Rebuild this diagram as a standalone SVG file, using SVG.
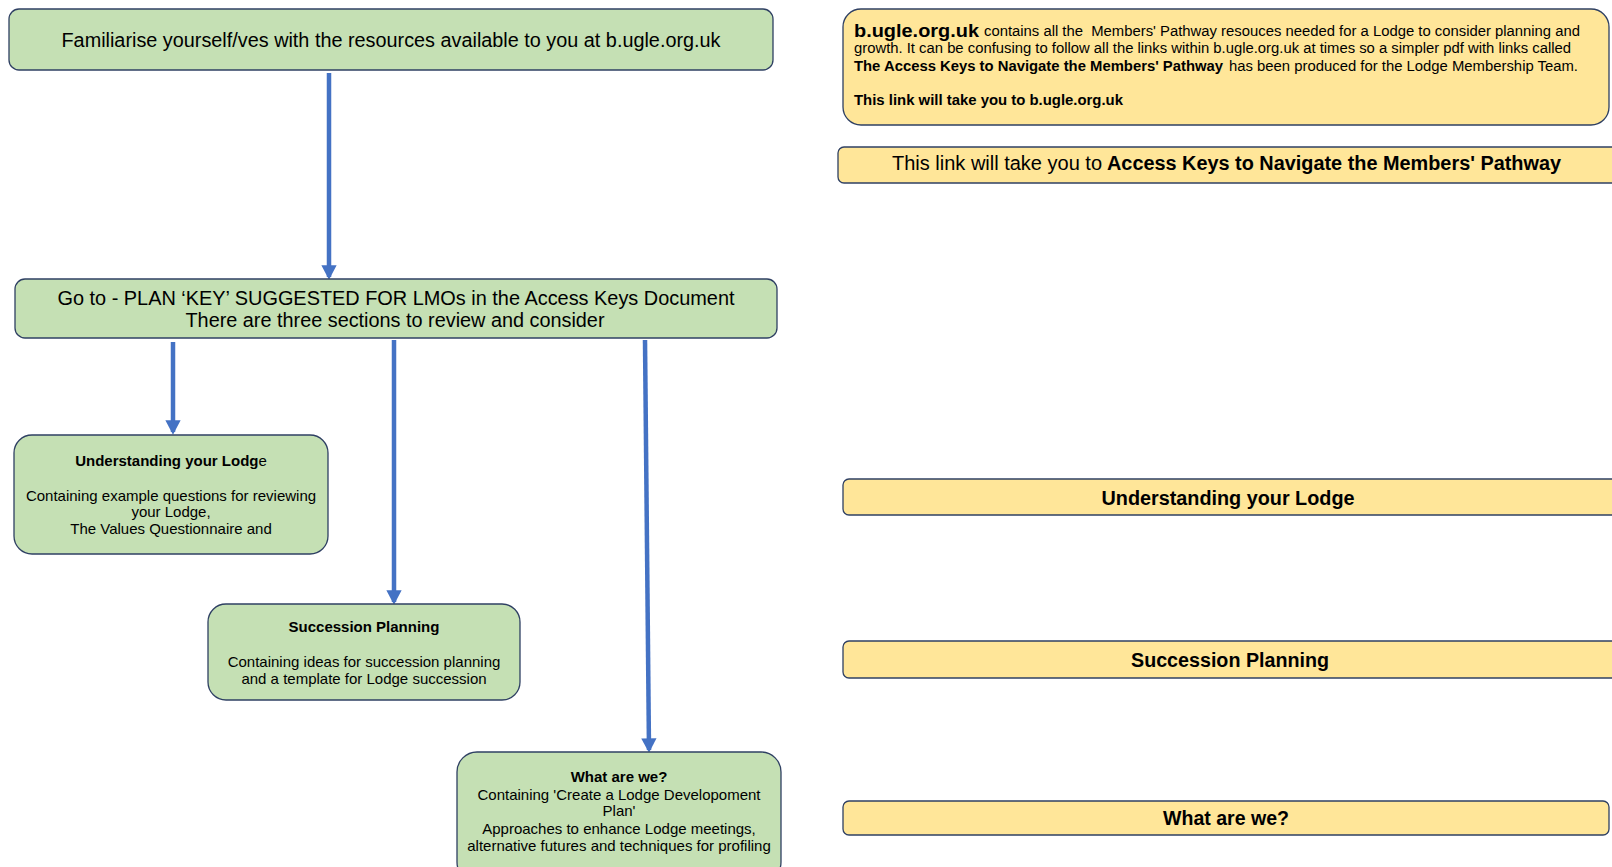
<svg xmlns="http://www.w3.org/2000/svg" width="1612" height="867" viewBox="0 0 1612 867">
<defs>
<style>
.g{fill:#C5E0B4;stroke:#2F4063;stroke-width:1.3}
.y{fill:#FFE699;stroke:#2F4063;stroke-width:1.3}
text{font-family:"Liberation Sans",Arial,sans-serif;fill:#000}
.c{text-anchor:middle}
.b{font-weight:bold}
.conn{stroke:#4472C4;stroke-width:4.5;fill:none}
</style>
<marker id="ah" markerWidth="4" markerHeight="4" refX="2.6" refY="2" orient="auto" markerUnits="strokeWidth" viewBox="0 0 4 4">
<path d="M0,0.3 L3.2,2 L0,3.7 Z" fill="#4472C4"/>
</marker>
</defs>
<rect width="1612" height="867" fill="#fff"/>
<g id="connectors">
<line class="conn" x1="329" y1="73" x2="329" y2="277" marker-end="url(#ah)"/>
<line class="conn" x1="173" y1="342" x2="173" y2="432" marker-end="url(#ah)"/>
<line class="conn" x1="394" y1="340" x2="394" y2="602" marker-end="url(#ah)"/>
<line class="conn" x1="645" y1="340" x2="649" y2="750" marker-end="url(#ah)"/>
</g>
<g id="n-familiarise">
<rect class="g" x="9" y="9" width="764" height="61" rx="10"/>
<text class="c" x="391" y="47" font-size="20" textLength="659" lengthAdjust="spacingAndGlyphs">Familiarise yourself/ves with the resources available to you at b.ugle.org.uk</text>
</g>
<g id="n-goto">
<rect class="g" x="15" y="279" width="762" height="59" rx="10"/>
<text class="c" x="396" y="305" font-size="20" textLength="677" lengthAdjust="spacingAndGlyphs">Go to - PLAN ‘KEY’ SUGGESTED FOR LMOs in the Access Keys Document</text>
<text class="c" x="395" y="327" font-size="20" textLength="419" lengthAdjust="spacingAndGlyphs">There are three sections to review and consider</text>
</g>
<g id="n-understanding">
<rect class="g" x="14" y="435" width="314" height="119" rx="18"/>
<text class="c" x="171" y="466" font-size="15"><tspan class="b">Understanding your Lodg</tspan>e</text>
<text class="c" x="171" y="501" font-size="15">Containing example questions for reviewing</text>
<text class="c" x="171" y="517" font-size="15">your Lodge,</text>
<text class="c" x="171" y="534" font-size="15">The Values Questionnaire and</text>
</g>
<g id="n-succession">
<rect class="g" x="208" y="604" width="312" height="96" rx="18"/>
<text class="c b" x="364" y="632" font-size="15">Succession Planning</text>
<text class="c" x="364" y="667" font-size="15">Containing ideas for succession planning</text>
<text class="c" x="364" y="684" font-size="15">and a template for Lodge succession</text>
</g>
<g id="n-whatarewe">
<rect class="g" x="457" y="752" width="324" height="130" rx="20"/>
<text class="c b" x="619" y="782" font-size="15">What are we?</text>
<text class="c" x="619" y="800" font-size="15">Containing 'Create a Lodge Developoment</text>
<text class="c" x="619" y="816" font-size="15">Plan'</text>
<text class="c" x="619" y="834" font-size="15">Approaches to enhance Lodge meetings,</text>
<text class="c" x="619" y="851" font-size="15">alternative futures and techniques for profiling</text>
</g>
<g id="n-info">
<rect class="y" x="843" y="9" width="766" height="116" rx="18"/>
<text class="b" x="854" y="37" font-size="19" textLength="125" lengthAdjust="spacingAndGlyphs">b.ugle.org.uk</text>
<text x="984" y="36" font-size="14" textLength="596" lengthAdjust="spacingAndGlyphs" xml:space="preserve">contains all the  Members' Pathway resouces needed for a Lodge to consider planning and</text>
<text x="854" y="53" font-size="14" textLength="717" lengthAdjust="spacingAndGlyphs">growth. It can be confusing to follow all the links within b.ugle.org.uk at times so a simpler pdf with links called</text>
<text class="b" x="854" y="71" font-size="14" textLength="369" lengthAdjust="spacingAndGlyphs">The Access Keys to Navigate the Members' Pathway</text>
<text x="1229" y="71" font-size="14" textLength="349" lengthAdjust="spacingAndGlyphs">has been produced for the Lodge Membership Team.</text>
<text class="b" x="854" y="105" font-size="14" textLength="269" lengthAdjust="spacingAndGlyphs">This link will take you to b.ugle.org.uk</text>
</g>
<g id="n-accesskeys">
<rect class="y" x="838" y="147" width="780" height="36" rx="6"/>
<text x="892" y="170" font-size="20" textLength="210" lengthAdjust="spacingAndGlyphs">This link will take you to</text>
<text class="b" x="1107" y="170" font-size="20" textLength="454" lengthAdjust="spacingAndGlyphs">Access Keys to Navigate the Members' Pathway</text>
</g>
<g id="n-understanding-link">
<rect class="y" x="843" y="479" width="775" height="36" rx="6"/>
<text class="c b" x="1228" y="505" font-size="20" textLength="253" lengthAdjust="spacingAndGlyphs">Understanding your Lodge</text>
</g>
<g id="n-succession-link">
<rect class="y" x="843" y="641" width="775" height="37" rx="6"/>
<text class="c b" x="1230" y="667" font-size="20" textLength="198" lengthAdjust="spacingAndGlyphs">Succession Planning</text>
</g>
<g id="n-whatarewe-link">
<rect class="y" x="843" y="801" width="766" height="34" rx="6"/>
<text class="c b" x="1226" y="825" font-size="20" textLength="126" lengthAdjust="spacingAndGlyphs">What are we?</text>
</g>
</svg>
